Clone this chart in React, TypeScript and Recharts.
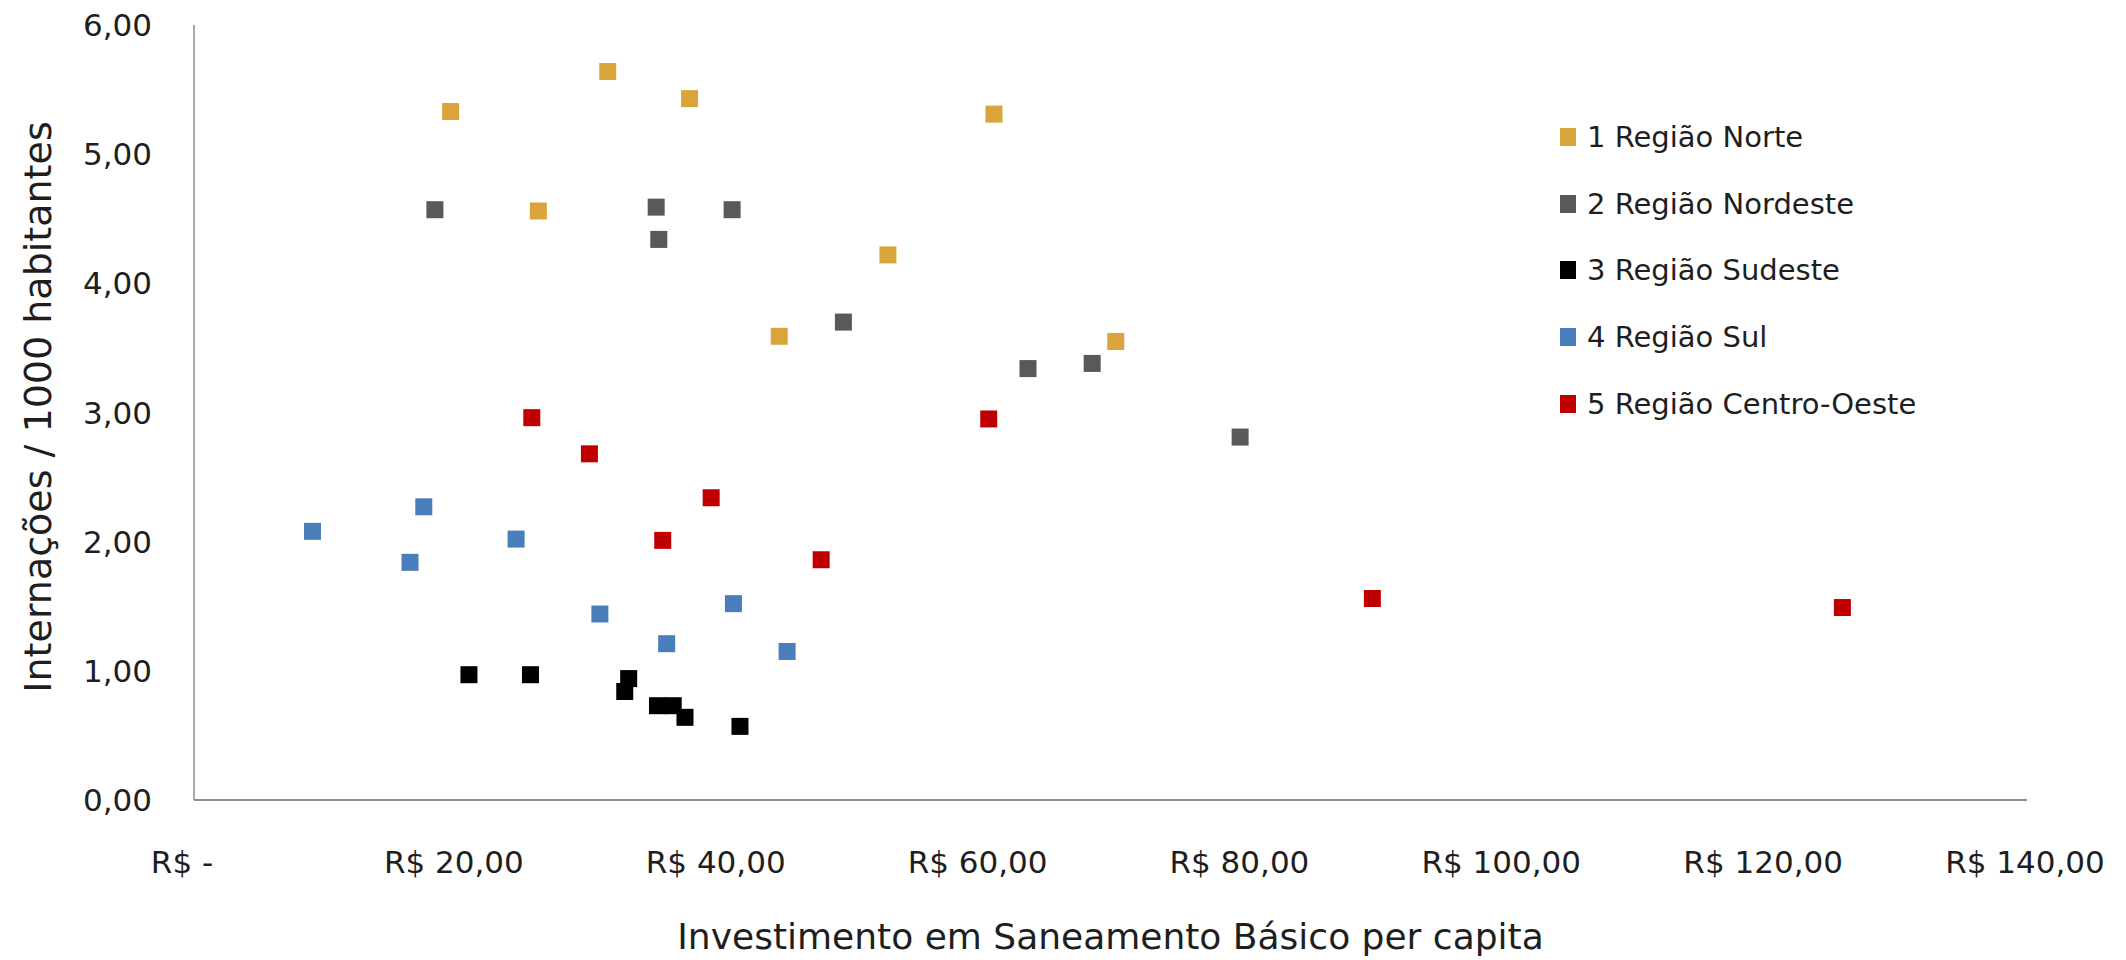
import { ScatterChart, Scatter, XAxis, YAxis, Legend, Label } from 'recharts'

// investimento per capita (R$) / internações por 1000 hab.
const norteX = [19.6, 31.6, 37.85, 61.1, 26.3, 53.0, 44.7, 70.4]
const norteY = [5.33, 5.64, 5.43, 5.31, 4.56, 4.22, 3.59, 3.55]

const nordesteX = [18.4, 35.3, 41.1, 35.5, 49.6, 63.7, 68.6, 79.9]
const nordesteY = [4.57, 4.59, 4.57, 4.34, 3.70, 3.34, 3.38, 2.81]

const sudesteX = [21.0, 25.7, 33.2, 32.9, 35.4, 36.6, 37.5, 41.7]
const sudesteY = [0.97, 0.97, 0.94, 0.84, 0.73, 0.73, 0.64, 0.57]

const sulX = [9.05, 17.55, 16.5, 24.6, 31.0, 36.1, 41.2, 45.3]
const sulY = [2.08, 2.27, 1.84, 2.02, 1.44, 1.21, 1.52, 1.15]

const centroX = [25.8, 30.2, 39.5, 35.8, 47.9, 60.7, 90.0, 125.9]
const centroY = [2.96, 2.68, 2.34, 2.01, 1.86, 2.95, 1.56, 1.49]

const xTicks = [0, 20, 40, 60, 80, 100, 120, 140]
const yTicks = [0, 1, 2, 3, 4, 5, 6]

const FONT = '"DejaVu Sans", sans-serif'
const TEXT = '#1e1e1e'
const AXIS = '#8c8c8c'

const pts = (xs: number[], ys: number[]) => xs.map((x, i) => ({ x, y: ys[i] }))

const series = [
  { name: '1 Região Norte', color: '#D9A53A', data: pts(norteX, norteY) },
  { name: '2 Região Nordeste', color: '#595959', data: pts(nordesteX, nordesteY) },
  { name: '3 Região Sudeste', color: '#000000', data: pts(sudesteX, sudesteY) },
  { name: '4 Região Sul', color: '#4A7EBB', data: pts(sulX, sulY) },
  { name: '5 Região Centro-Oeste', color: '#C00000', data: pts(centroX, centroY) },
]

const fmtReal = (v: number) => (v === 0 ? 'R$ -' : `R$ ${v},00`)
const fmtNum = (v: number) => v.toFixed(2).replace('.', ',')

function XTick(props: any) {
  const { x, y, payload } = props
  return (
    <text
      x={x}
      y={y}
      dx={payload.value === 0 ? -12 : -2}
      dy={22}
      textAnchor="middle"
      fontFamily={FONT}
      fontSize={31}
      fill={TEXT}
    >
      {fmtReal(payload.value)}
    </text>
  )
}

function YTick(props: any) {
  const { x, y, payload } = props
  return (
    <text x={x} y={y} dy={11} textAnchor="end" fontFamily={FONT} fontSize={31} fill={TEXT}>
      {fmtNum(payload.value)}
    </text>
  )
}

function squareShape(color: string) {
  return (p: any) => (
    <rect x={p.cx - 8.5} y={p.cy - 8.5} width={17} height={17} fill={color} />
  )
}

function LegendBox() {
  return (
    <div style={{ fontFamily: FONT, fontSize: 29, color: TEXT }}>
      {series.map(s => (
        <div key={s.name} style={{ display: 'flex', alignItems: 'center', height: 66.6 }}>
          <span style={{ width: 16, height: 18, background: s.color, marginRight: 11 }} />
          <span>{s.name}</span>
        </div>
      ))}
    </div>
  )
}

export default function App() {
  return (
    <div style={{ position: 'absolute', left: 0, top: 0, width: 2126, height: 960, background: '#fff' }}>
      <ScatterChart width={2126} height={960} margin={{ top: 25, right: 99, bottom: 0, left: 0 }}>
        <XAxis
          type="number"
          dataKey="x"
          domain={[0, 140]}
          ticks={xTicks}
          interval={0}
          height={160}
          tickSize={0}
          tickMargin={51}
          tick={<XTick />}
          axisLine={{ stroke: AXIS, strokeWidth: 2 }}
          tickLine={false}
        >
          <Label
            content={({ viewBox }: any) => (
              <text
                x={viewBox.x + viewBox.width / 2}
                y={viewBox.y + 149}
                textAnchor="middle"
                fontFamily={FONT}
                fontSize={36}
                fill={TEXT}
              >
                Investimento em Saneamento Básico per capita
              </text>
            )}
          />
        </XAxis>
        <YAxis
          type="number"
          dataKey="y"
          domain={[0, 6]}
          ticks={yTicks}
          interval={0}
          width={194}
          tickSize={0}
          tickMargin={42}
          tick={<YTick />}
          axisLine={{ stroke: AXIS, strokeWidth: 1.5 }}
          tickLine={false}
        >
          <Label
            content={() => (
              <text
                x={38}
                y={407}
                transform="rotate(-90 38 407)"
                textAnchor="middle"
                dominantBaseline="central"
                fontFamily={FONT}
                fontSize={38}
                fill={TEXT}
              >
                Internações / 1000 habitantes
              </text>
            )}
          />
        </YAxis>
        <Legend
          layout="vertical"
          align="center"
          verticalAlign="middle"
          content={() => <LegendBox />}
          wrapperStyle={{ left: 1560, top: 104, width: 'auto' }}
        />
        {series.map(s => (
          <Scatter
            key={s.name}
            name={s.name}
            data={s.data}
            fill={s.color}
            shape={squareShape(s.color)}
            isAnimationActive={false}
          />
        ))}
      </ScatterChart>
    </div>
  )
}
